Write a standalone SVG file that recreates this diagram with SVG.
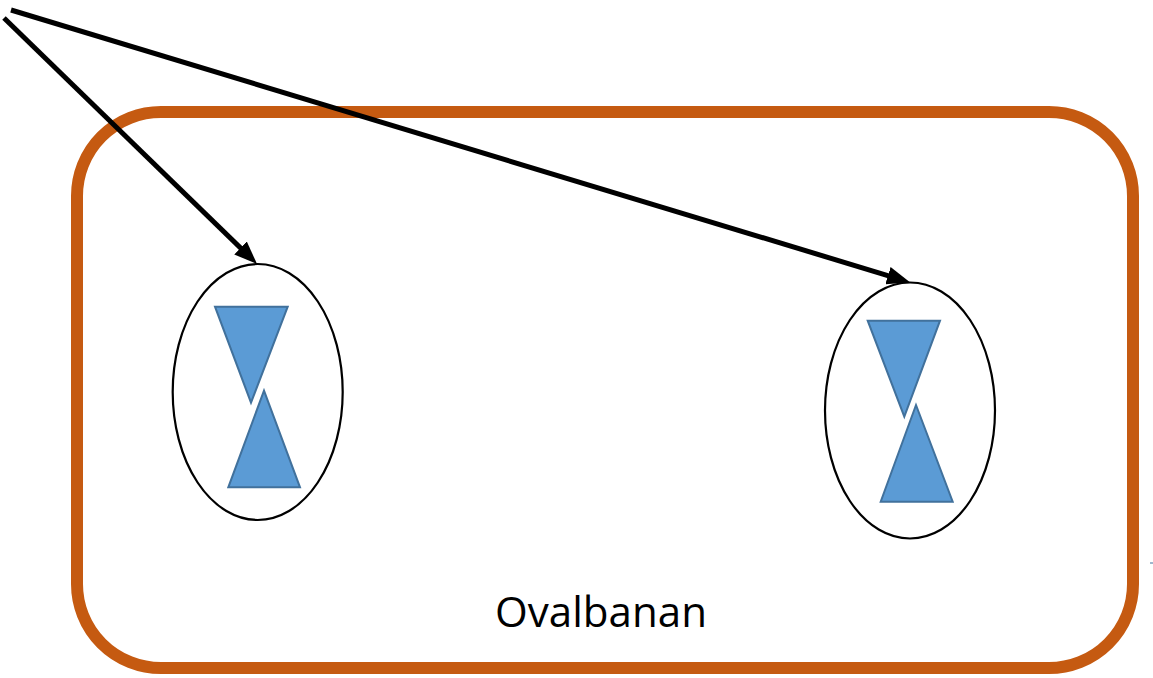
<svg xmlns="http://www.w3.org/2000/svg" width="1153" height="678" viewBox="0 0 1153 678">
  <style>
    .frame { fill: none; stroke: #C55A11; stroke-width: 12; }
    .oval { fill: #FFFFFF; stroke: #000000; stroke-width: 2.2; }
    .tri { fill: #5B9BD5; stroke: #41719C; stroke-width: 2; stroke-linejoin: miter; }
    .conn { fill: none; stroke: #000000; stroke-width: 5; }
    .label { font-family: "Open Sans", "Noto Sans", sans-serif; font-size: 42px; fill: #000000; }
  </style>
  <defs>
    <marker id="arrow" markerUnits="userSpaceOnUse" markerWidth="24" markerHeight="18" refX="11" refY="9" orient="auto">
      <path d="M0,0 L23,9 L0,18 z" fill="#000000"/>
    </marker>
  </defs>
  <rect width="1153" height="678" fill="#FFFFFF"/>

  <g id="ovalbanan">
    <rect class="frame" x="77" y="112" width="1056" height="556" rx="84" ry="84"/>
    <text class="label" x="601" y="627" text-anchor="middle" textLength="212" lengthAdjust="spacingAndGlyphs">Ovalbanan</text>
  </g>

  <g id="node-left">
    <ellipse class="oval" cx="257.7" cy="392" rx="85" ry="128"/>
    <polygon class="tri" points="215,306.7 287.7,306.7 251,402.7"/>
    <polygon class="tri" points="264,390.7 300,487.3 228.3,487.3"/>
  </g>

  <g id="node-right">
    <ellipse class="oval" cx="910" cy="410.5" rx="85" ry="128"/>
    <polygon class="tri" points="867.7,320.7 940,320.7 904.3,416.7"/>
    <polygon class="tri" points="916,405 952.7,501.7 880.7,501.7"/>
  </g>

  <g id="connectors">
    <line class="conn" x1="4" y1="18" x2="248.4" y2="255.6" marker-end="url(#arrow)"/>
    <line class="conn" x1="11" y1="10" x2="898.5" y2="278.8" marker-end="url(#arrow)"/>
  </g>

  <line x1="1150" y1="563" x2="1153" y2="563" stroke="#41719C" stroke-width="1"/>
</svg>
